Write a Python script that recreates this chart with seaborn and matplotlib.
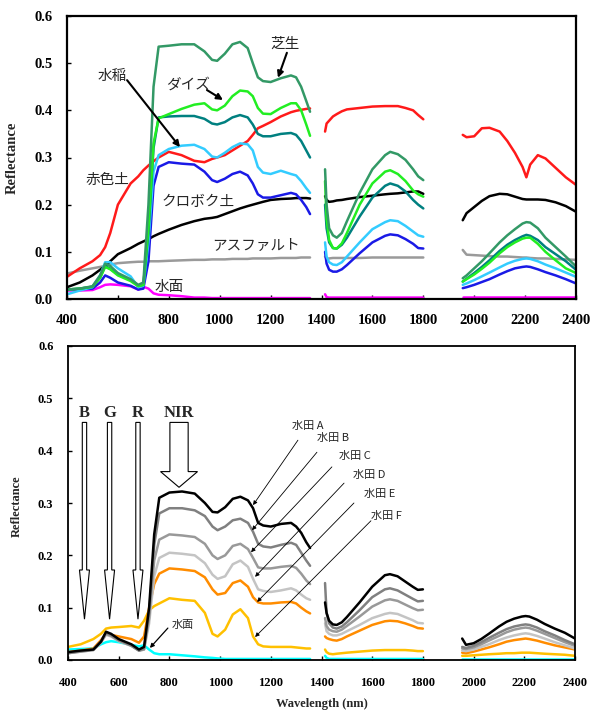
import matplotlib
matplotlib.use("Agg")
import matplotlib.pyplot as plt
import matplotlib.patches as mpatches
import seaborn as sns
import pandas as pd

# wavelength grids (nm) of the three measured windows
wl_vis = [400, 450, 500, 530, 550, 570, 600, 650, 680, 700, 720, 740, 760, 800, 850, 900, 940,
          970, 990, 1020, 1050, 1080, 1110, 1130, 1150, 1170, 1200, 1240, 1280, 1300, 1320, 1340, 1355]
wl_swir1 = [1414, 1420, 1430, 1445, 1460, 1480, 1500, 1550, 1600, 1650, 1670, 1700, 1730, 1760, 1780, 1800]
wl_swir2 = [1955, 1970, 2000, 2030, 2060, 2100, 2130, 2160, 2190, 2205, 2220, 2250, 2280, 2320, 2360, 2400]

# ---- top panel: land cover spectra (vis / swir1 / swir2) ----
turf = ([.020, .022, .027, .050, .075, .070, .055, .042, .030, .035, .200, .450, .535, .537, .540, .540, .525,
         .507, .505, .520, .540, .545, .532, .500, .470, .462, .460, .468, .474, .470, .450, .420, .397],
        [.275, .200, .150, .135, .130, .140, .165, .225, .275, .305, .312, .307, .295, .275, .260, .252],
        [.044, .050, .065, .080, .097, .120, .135, .148, .160, .163, .162, .150, .130, .110, .090, .069])
soybean = ([.020, .022, .026, .045, .068, .063, .050, .038, .027, .030, .150, .330, .383, .392, .403, .412, .415,
            .402, .400, .410, .430, .442, .440, .430, .405, .393, .392, .405, .415, .415, .400, .370, .346],
           [.250, .170, .125, .108, .107, .118, .140, .200, .245, .270, .273, .265, .250, .230, .222, .217],
           [.037, .042, .052, .064, .077, .097, .110, .120, .128, .130, .130, .117, .100, .082, .065, .055])
teal_veg = ([.020, .022, .026, .045, .070, .064, .052, .040, .028, .030, .140, .320, .385, .387, .388, .388, .382,
             .372, .370, .375, .385, .390, .385, .370, .350, .345, .345, .350, .352, .348, .335, .315, .300],
            [.200, .150, .120, .108, .107, .115, .130, .175, .215, .240, .245, .240, .228, .210, .200, .192],
            [.037, .043, .055, .068, .082, .102, .115, .125, .133, .136, .134, .125, .110, .095, .080, .062])
rice = ([.010, .018, .025, .050, .078, .078, .065, .048, .025, .028, .120, .270, .305, .318, .325, .327, .318,
         .302, .300, .310, .322, .330, .328, .315, .280, .268, .265, .272, .265, .262, .250, .235, .225],
        [.120, .090, .078, .073, .072, .078, .090, .120, .148, .163, .167, .165, .155, .143, .135, .132],
        [.030, .033, .040, .048, .056, .067, .075, .081, .085, .086, .085, .080, .073, .065, .056, .047])
blue_veg = ([.020, .021, .022, .035, .050, .045, .035, .028, .020, .022, .080, .240, .280, .290, .287, .285, .270,
             .252, .248, .255, .265, .270, .262, .245, .222, .215, .215, .220, .225, .222, .210, .195, .180],
            [.100, .075, .062, .058, .058, .063, .072, .097, .120, .134, .137, .135, .127, .117, .108, .107],
            [.023, .025, .030, .036, .042, .052, .059, .065, .068, .069, .068, .063, .057, .050, .042, .033])
red_soil = ([.047, .065, .080, .093, .110, .140, .200, .245, .260, .273, .283, .292, .300, .312, .305, .293, .290,
             .297, .300, .305, .315, .325, .335, .348, .362, .367, .375, .387, .396, .399, .401, .403, .404],
            [.355, .372, .378, .387, .392, .398, .402, .405, .408, .409, .409, .409, .405, .400, .390, .381],
            [.348, .343, .345, .362, .363, .355, .335, .310, .280, .258, .285, .305, .298, .278, .258, .242])
kuroboku = ([.025, .035, .050, .062, .070, .080, .095, .108, .117, .122, .127, .133, .138, .147, .157, .165, .170,
             .172, .174, .180, .186, .192, .197, .200, .203, .206, .210, .212, .213, .214, .214, .214, .213],
            [.218, .210, .206, .207, .209, .210, .212, .216, .219, .222, .223, .224, .226, .228, .228, .223],
            [.167, .182, .195, .208, .218, .223, .222, .217, .212, .211, .211, .211, .210, .205, .197, .185])
asphalt = ([.054, .060, .065, .068, .070, .073, .076, .078, .079, .079, .080, .080, .080, .081, .082, .083, .083,
            .084, .084, .084, .085, .085, .085, .086, .086, .086, .086, .087, .087, .087, .088, .088, .088],
           [.090, .085, .086, .087, .087, .087, .087, .087, .088, .088, .088, .088, .088, .088, .088, .088],
           [.104, .094, .093, .092, .091, .090, .090, .089, .088, .088, .087, .086, .086, .085, .084, .083])
water_top = ([.018, .018, .019, .025, .030, .031, .030, .027, .020, .026, .022, .012, .009, .008, .006, .003, .003,
              .002, .002, .002, .002, .002, .002, .002, .002, .002, .002, .002, .002, .002, .002, .002, .002],
             [.010, .004, .003, .003, .003, .003, .003, .003, .003, .003, .003, .003, .003, .003, .003, .003],
             [.004, .004, .004, .004, .004, .004, .004, .004, .004, .004, .004, .004, .004, .004, .004, .004])

# ---- bottom panel: paddy fields A-F and water ----
paddy_a = ([.015, .018, .020, .035, .054, .050, .040, .030, .020, .025, .100, .240, .310, .320, .322, .318, .300,
            .283, .282, .292, .308, .312, .305, .290, .262, .257, .255, .260, .262, .255, .243, .225, .214],
           [.110, .090, .075, .068, .067, .072, .082, .110, .140, .162, .164, .160, .150, .140, .134, .135],
           [.041, .029, .032, .040, .050, .064, .073, .079, .083, .084, .083, .077, .069, .060, .052, .041])
paddy_b = ([.013, .017, .020, .035, .052, .048, .038, .028, .018, .022, .090, .220, .280, .290, .290, .286, .275,
            .255, .248, .255, .267, .270, .262, .245, .222, .217, .215, .220, .224, .220, .205, .190, .180],
           [.147, .090, .070, .062, .060, .064, .072, .095, .120, .135, .137, .133, .125, .117, .112, .113],
           [.025, .023, .027, .034, .042, .052, .059, .064, .067, .068, .067, .062, .055, .047, .038, .030])
paddy_c = ([.013, .016, .019, .034, .050, .046, .037, .027, .018, .020, .080, .190, .230, .240, .238, .235, .222,
            .200, .193, .200, .218, .222, .212, .195, .177, .175, .175, .178, .180, .176, .165, .152, .145],
           [.080, .065, .058, .055, .054, .058, .065, .083, .102, .114, .116, .113, .106, .099, .095, .096],
           [.022, .021, .024, .030, .037, .046, .053, .058, .061, .062, .061, .056, .050, .042, .034, .027])
paddy_d = ([.013, .016, .019, .033, .048, .045, .036, .027, .018, .020, .070, .160, .195, .205, .203, .200, .185,
            .163, .155, .160, .183, .190, .178, .155, .135, .132, .130, .133, .137, .133, .125, .118, .115],
           [.070, .055, .050, .047, .047, .050, .055, .067, .080, .088, .090, .088, .082, .076, .071, .070],
           [.018, .017, .020, .025, .030, .038, .043, .047, .050, .051, .050, .046, .041, .034, .028, .022])
paddy_e = ([.015, .018, .022, .038, .050, .048, .045, .040, .033, .045, .100, .145, .165, .175, .173, .170, .158,
            .135, .125, .128, .147, .152, .140, .120, .110, .108, .108, .110, .111, .108, .100, .093, .089],
           [.045, .042, .040, .038, .037, .040, .045, .056, .067, .074, .075, .074, .070, .065, .061, .060],
           [.014, .013, .016, .020, .024, .030, .035, .038, .040, .041, .040, .037, .033, .028, .024, .020])
paddy_f = ([.025, .030, .040, .050, .060, .062, .063, .065, .062, .075, .095, .103, .108, .118, .115, .113, .090,
            .050, .045, .058, .087, .097, .080, .045, .030, .026, .025, .025, .025, .024, .023, .022, .022],
           [.020, .015, .012, .011, .012, .013, .014, .016, .018, .019, .019, .019, .019, .018, .017, .017],
           [.008, .008, .009, .010, .011, .012, .013, .013, .014, .014, .014, .013, .012, .011, .010, .008])
water_bot = ([.020, .021, .022, .030, .034, .036, .034, .029, .026, .028, .020, .013, .011, .011, .009, .007, .005,
              .004, .003, .002, .002, .002, .002, .002, .002, .002, .002, .002, .002, .002, .002, .002, .002],
             [.008, .004, .002, .002, .002, .002, .002, .002, .002, .002, .002, .002, .002, .002, .002, .002],
             [.002, .002, .002, .002, .002, .002, .002, .002, .002, .002, .002, .002, .002, .002, .002, .002])

top_series = {"asphalt": asphalt, "water": water_top, "red": red_soil, "kuroboku": kuroboku,
              "blue": blue_veg, "rice": rice, "teal": teal_veg, "soybean": soybean, "turf": turf}
top_colors = {"asphalt": "#9a9a9a", "water": "#ff00ff", "red": "#ff1a1a", "kuroboku": "#000000",
              "blue": "#1a1ae6", "rice": "#33ccff", "teal": "#008080", "soybean": "#22ee22", "turf": "#339966"}
bot_series = {"water": water_bot, "F": paddy_f, "E": paddy_e, "D": paddy_d, "C": paddy_c, "B": paddy_b, "A": paddy_a}
bot_colors = {"water": "#00ffff", "F": "#ffc000", "E": "#ff8c00", "D": "#c4c4c4", "C": "#999999",
              "B": "#808080", "A": "#000000"}


def to_long(series):
    rows = []
    grids = [wl_vis, wl_swir1, wl_swir2]
    for name, segs in series.items():
        for k, (grid, vals) in enumerate(zip(grids, segs)):
            for w, v in zip(grid, vals):
                rows.append({"wl": w, "refl": v, "name": name, "seg": k})
    return pd.DataFrame(rows)


sns.set_theme(style="ticks")
plt.rcParams["font.family"] = ["Liberation Serif", "DejaVu Sans"]
plt.rcParams["font.weight"] = "bold"
JP = ["Noto Sans CJK JP", "DejaVu Sans"]

fig = plt.figure(figsize=(5.98, 7.11), dpi=100)
ax1 = fig.add_axes([67 / 598, 1 - 299 / 711, 509 / 598, 283 / 711])
ax2 = fig.add_axes([68 / 598, 1 - 660 / 711, 507 / 598, 314 / 711])

sns.lineplot(data=to_long(top_series), x="wl", y="refl", hue="name", units="seg", estimator=None,
             hue_order=list(top_series), palette=top_colors, sort=False, legend=False, lw=1.8, ax=ax1)
sns.lineplot(data=to_long(bot_series), x="wl", y="refl", hue="name", units="seg", estimator=None,
             hue_order=list(bot_series), palette=bot_colors, sort=False, legend=False, lw=1.8, ax=ax2)

for ax, fs, xpad, ypad, sw in [(ax1, 10.5, 10.5, 10.5, 1.6), (ax2, 9, 12, 10.5, 1.3)]:
    ax.set_xlim(400, 2400)
    ax.set_ylim(0, 0.6)
    ax.set_xticks(range(400, 2401, 200))
    ax.set_yticks([i / 10 for i in range(7)])
    ax.set_yticklabels([f"{i / 10:.1f}" for i in range(7)])
    ax.tick_params(axis="x", direction="in", length=3, width=1, labelsize=fs, pad=xpad, colors="black")
    ax.tick_params(axis="y", direction="in", length=3, width=1, labelsize=fs, pad=ypad, colors="black")
    for s in ax.spines.values():
        s.set_visible(True)
        s.set_linewidth(sw)
        s.set_color("black")
    ax.set_xlabel("")

ax1.set_ylabel("Reflectance", fontsize=10.5, fontweight="bold")
ax1.yaxis.set_label_coords(-0.094, 0.5)
ax2.set_ylabel("Reflectance", fontsize=9, fontweight="bold")
ax2.yaxis.set_label_coords(-0.089, 0.49)
ax2.set_xlabel("Wavelength (nm)", fontsize=9, fontweight="bold")
ax2.xaxis.set_label_coords(0.5, -0.121)

# ---- top annotations ----
arr = dict(arrowstyle="-|>", color="black", lw=1.5, mutation_scale=9, shrinkA=0, shrinkB=0)
jp_kw = dict(family=JP, fontsize=10.5, fontweight="normal", va="center")
ax1.text(1257, 0.541, "芝生", ha="center", **jp_kw)
ax1.annotate("", xy=(1229, 0.469), xytext=(1264, 0.522), arrowprops=arr)
ax1.text(875, 0.454, "ダイズ", ha="center", **jp_kw)
ax1.annotate("", xy=(1013, 0.422), xytext=(950, 0.443), arrowprops=arr)
ax1.text(577, 0.473, "水稲", ha="center", **jp_kw)
ax1.annotate("", xy=(844, 0.322), xytext=(636, 0.464), arrowprops=arr)
ax1.text(557, 0.252, "赤色土", ha="center", **jp_kw)
ax1.text(915, 0.206, "クロボク土", ha="center", **jp_kw)
ax1.text(970, 0.112, "アスファルト", ha="left", **jp_kw)
ax1.text(801, 0.025, "水面", ha="center", **jp_kw)


# ---- bottom annotations: band arrows ----
def hollow_arrow(ax, x, top, neck, tip, shaft_hw, head_hw):
    pts = [(x - shaft_hw, top), (x + shaft_hw, top), (x + shaft_hw, neck), (x + head_hw, neck),
           (x, tip), (x - head_hw, neck), (x - shaft_hw, neck)]
    ax.add_patch(mpatches.Polygon(pts, closed=True, fc="white", ec="black", lw=0.8, zorder=5))


for lab, xc in [("B", 465), ("G", 564), ("R", 676)]:
    hollow_arrow(ax2, xc, 0.454, 0.172, 0.078, 8.6, 19.7)
    ax2.text(xc, 0.472, lab, fontsize=12, fontweight="bold", ha="center", va="center")
hollow_arrow(ax2, 838, 0.454, 0.36, 0.33, 36, 73)
ax2.text(838, 0.472, "NIR", fontsize=12, fontweight="bold", ha="center", va="center")

thin = dict(arrowstyle="-|>", color="black", lw=0.6, mutation_scale=6, shrinkA=0, shrinkB=0)
paddy_labels = [("水田 A", 1284, 0.447, (1307, 0.420), (1130, 0.296)),
                ("水田 B", 1382, 0.424, (1382, 0.397), (1126, 0.248)),
                ("水田 C", 1469, 0.390, (1441, 0.369), (1122, 0.206)),
                ("水田 D", 1524, 0.354, (1489, 0.338), (1138, 0.159)),
                ("水田 E", 1568, 0.317, (1528, 0.300), (1146, 0.111)),
                ("水田 F", 1595, 0.275, (1595, 0.266), (1138, 0.044))]
for txt, tx, ty, start, tip in paddy_labels:
    ax2.text(tx, ty, txt, family=JP, fontsize=8, fontweight="normal", ha="left", va="center")
    ax2.annotate("", xy=tip, xytext=start, arrowprops=thin)

ax2.text(810, 0.067, "水面", family=JP, fontsize=8, fontweight="normal", ha="left", va="center")
ax2.annotate("", xy=(723, 0.023), xytext=(794, 0.061), arrowprops=dict(thin, lw=0.9))

fig.savefig("out.png", dpi=100)
